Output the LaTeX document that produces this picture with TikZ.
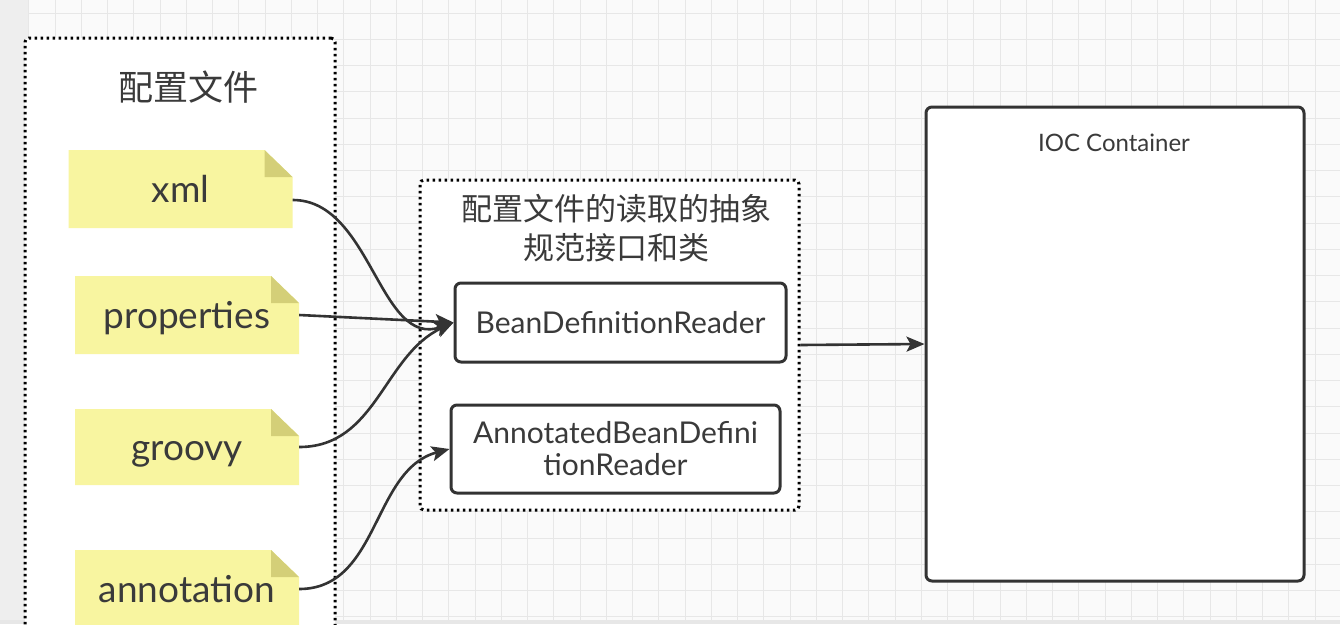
\documentclass[tikz,border=0pt]{standalone}
\usepackage{fontspec}
\setmainfont{Lato}
\newfontfamily\cjk{Noto Sans CJK SC}
\usetikzlibrary{arrows.meta}
\definecolor{bgc}{HTML}{FAFAFA}
\definecolor{stripc}{HTML}{EEEEEE}
\definecolor{gridc}{HTML}{E7E7E7}
\definecolor{notec}{HTML}{F8F5A0}
\definecolor{foldc}{HTML}{D4CF78}
\definecolor{linec}{HTML}{333333}
\definecolor{txtc}{HTML}{3A3A3A}
\tikzset{
  groupbox/.style={draw=black, fill=white, line width=3pt, dash pattern=on 2.5pt off 3.5pt, rounded corners=4pt},
  note/.style={minimum width=224pt, minimum height=78pt, inner sep=0pt, text=txtc,
    font=\fontsize{37}{42}\selectfont, text height=30pt, text depth=4pt,
    path picture={
      \fill[notec] (path picture bounding box.south west) -- (path picture bounding box.north west)
        -- ([xshift=-28pt]path picture bounding box.north east)
        -- ([yshift=-27pt]path picture bounding box.north east)
        -- (path picture bounding box.south east) -- cycle;
      \fill[foldc] ([xshift=-28pt]path picture bounding box.north east)
        -- ([xshift=-28pt,yshift=-27pt]path picture bounding box.north east)
        -- ([yshift=-27pt]path picture bounding box.north east) -- cycle;
    }},
  classbox/.style={draw=linec, fill=white, line width=3pt, rounded corners=6pt, inner sep=0pt,
    text=txtc, font=\fontsize{30}{32}\selectfont, align=center},
  conn/.style={draw=linec, line width=2.6pt, -{Stealth[length=18pt,width=15pt,inset=4pt]}},
  cjktitle/.style={text=txtc, inner sep=0pt, align=center}
}
\begin{document}
\begin{tikzpicture}[x=1pt,y=-1pt]
\useasboundingbox (0,0) rectangle (1340,624);
\fill[bgc] (0,0) rectangle (1340,624);
\foreach \i in {0,...,49} {\draw[gridc, line width=1pt] ({28.75+26.25*\i},0) -- ({28.75+26.25*\i},620);}
\foreach \j in {0,...,23} {\draw[gridc, line width=1pt] (28,{13+26.25*\j}) -- (1340,{13+26.25*\j});}
\fill[stripc] (0,0) rectangle (28,624);
\fill[gridc] (0,620) rectangle (1340,624);

% left group
\node[groupbox, minimum width=310pt, minimum height=604pt] (cfg) at (180,340) {};
\node[cjktitle, font=\cjk\fontsize{35}{40}\selectfont] (cfgt) at (188,87) {配置文件};

\node[note] (xml) at (180.5,189) {xml};
\node[note] (prop) at (187,315) {properties};
\node[note, minimum height=76pt] (groovy) at (187,447) {groovy};
\node[note] (anno) at (187,589) {annotation};

% middle group
\node[groupbox, minimum width=379pt, minimum height=330pt] (grp) at (609.5,345) {};
\node[cjktitle, font=\cjk\fontsize{31}{39}\selectfont] (grpt) at (616,228) {配置文件的读取的抽象\\规范接口和类};

\node[classbox, minimum width=331pt, minimum height=79pt] (bdr) at (620.5,322.5) {BeanDefinitionReader};
\node[classbox, minimum width=329pt, minimum height=88pt] (abdr) at (615.5,449) {AnnotatedBeanDefini\\tionReader};

% IOC container
\node[classbox, minimum width=378pt, minimum height=474pt] (ioc) at (1115,344) {};
\node[text=txtc, inner sep=0pt, font=\fontsize{24}{28}\selectfont] (ioct) at (1114,143) {IOC Container};

% connectors
\draw[conn] ([yshift=-11pt]xml.east) to[out=0, in=200] (bdr.west);
\draw[conn] (prop.east) -- (bdr.west);
\draw[conn] (groovy.east) to[out=0, in=205] (bdr.west);
\draw[conn] (anno.east) to[out=0, in=195] (abdr.west);
\draw[conn] (grp.east) -- (ioc.west);
\end{tikzpicture}
\end{document}
